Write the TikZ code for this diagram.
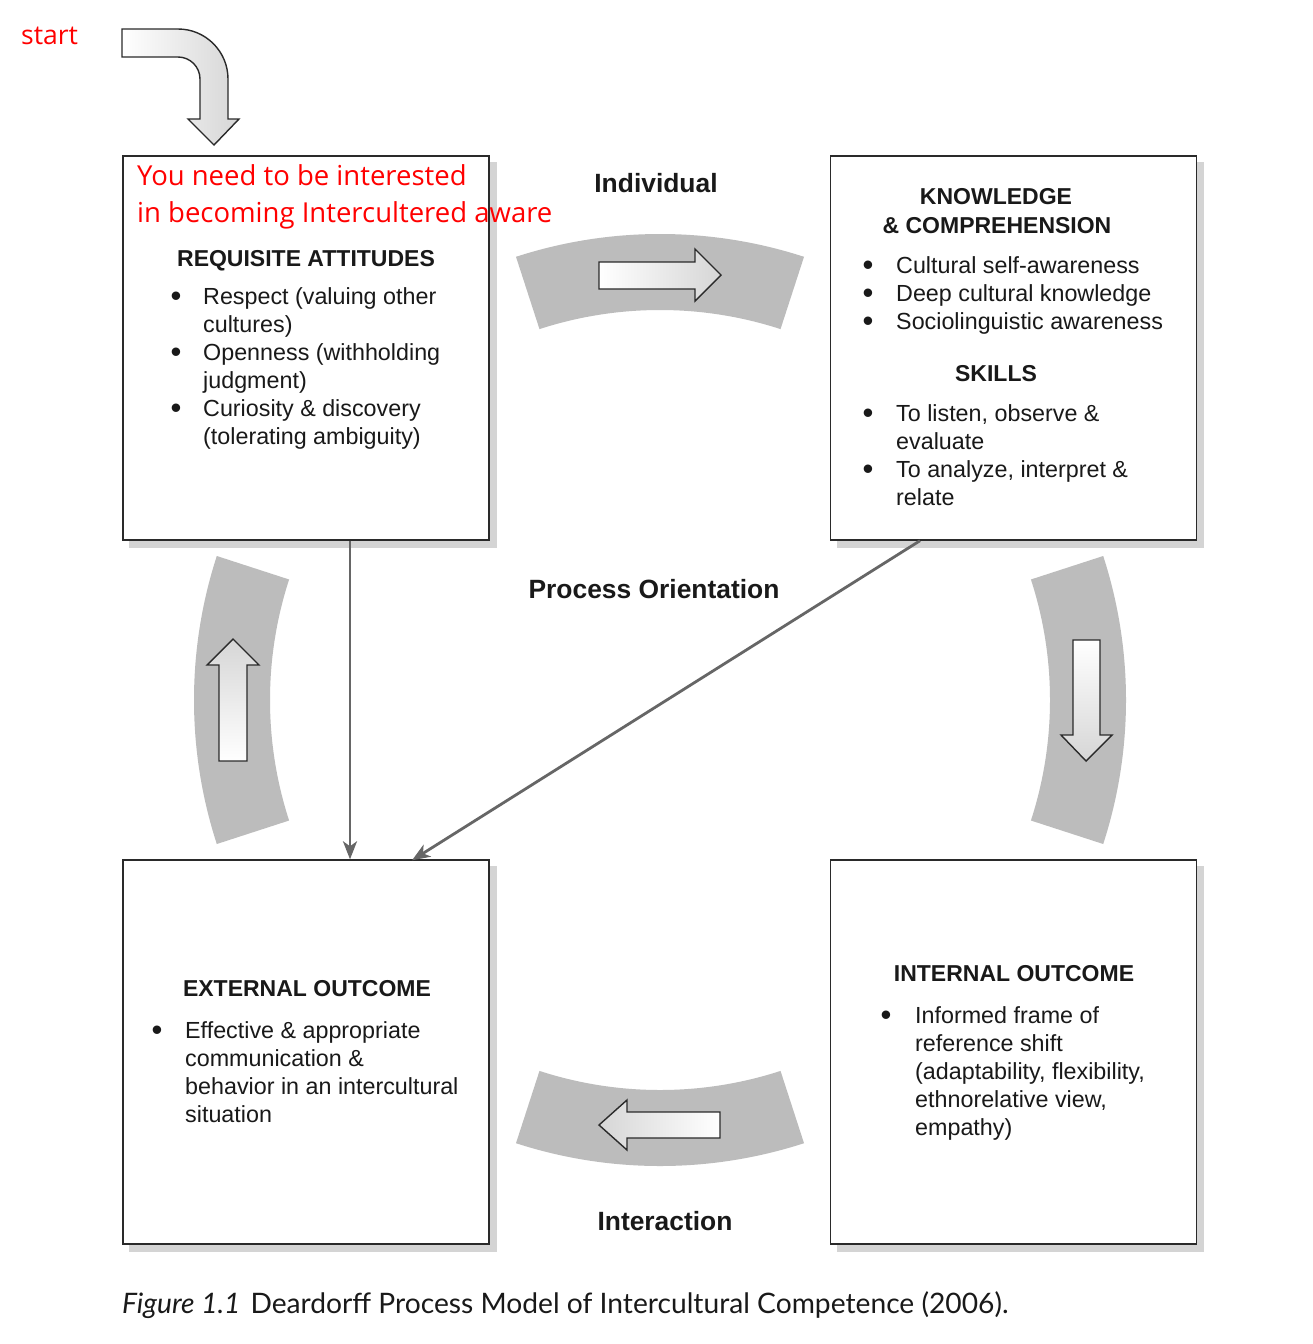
\documentclass[tikz,border=0pt]{standalone}
\usepackage{fontspec}
\setmainfont{Liberation Sans}
\newfontfamily\redfont{Open Sans}
\newfontfamily\capfont{Lato}
\usetikzlibrary{arrows.meta,calc}
\definecolor{bandgray}{HTML}{BCBCBC}
\definecolor{shadowgray}{HTML}{D4D4D4}
\definecolor{boxline}{HTML}{2A2A2A}
\definecolor{connline}{HTML}{666666}
\definecolor{arrgray}{HTML}{D6D6D6}
\tikzset{
  box/.style={draw=boxline, line width=1.4pt, fill=white, minimum width=366pt, minimum height=384pt, inner sep=0pt},
  txt/.style={inner sep=0pt, anchor=base west, font=\fontsize{23.3}{28}\selectfont, text=black!90},
  bul/.style={inner sep=0pt, anchor=base, yshift=-2.5pt, font=\fontsize{31}{28}\selectfont, text=black!90},
  head/.style={inner sep=0pt, anchor=base, font=\fontsize{23}{28}\selectfont\bfseries, text=black!90},
  lbl/.style={inner sep=0pt, anchor=base, font=\fontsize{26.4}{30}\selectfont\bfseries, text=black!90},
  redtxt/.style={inner sep=0pt, anchor=base west, font=\redfont\fontsize{27.5}{37}\selectfont, text=red},
  conn/.style={draw=connline, line width=2.8pt, -{Stealth[length=18pt,width=14pt,inset=5pt]}},
  band/.style={fill=bandgray},
  bigarrow/.style={draw=boxline, line width=1.4pt, line join=miter}
}
\begin{document}
\begin{tikzpicture}[x=1pt,y=-1pt]
\useasboundingbox[fill=white] (0,0) rectangle (1313,1344);
\coordinate (c) at (660,700);
% bands
\fill[band] ($(c)+(-108:466)$) arc[start angle=-108,end angle=-72,radius=466] -- ($(c)+(-72:390)$) arc[start angle=-72,end angle=-108,radius=390] -- cycle;
\fill[band] ($(c)+(162:466)$) arc[start angle=162,end angle=198,radius=466] -- ($(c)+(198:390)$) arc[start angle=198,end angle=162,radius=390] -- cycle;
\fill[band] ($(c)+(-18:466)$) arc[start angle=-18,end angle=18,radius=466] -- ($(c)+(18:390)$) arc[start angle=18,end angle=-18,radius=390] -- cycle;
\fill[band] ($(c)+(72:466)$) arc[start angle=72,end angle=108,radius=466] -- ($(c)+(108:390)$) arc[start angle=108,end angle=72,radius=390] -- cycle;
% arrows in bands
\draw[bigarrow, left color=white, right color=arrgray] (599,262) -- (695,262) -- (695,249) -- (721,275) -- (695,301) -- (695,289) -- (599,289) -- cycle;
\draw[bigarrow, top color=arrgray, bottom color=white] (219,761) -- (219,665) -- (207,665) -- (233,639) -- (259,665) -- (247,665) -- (247,761) -- cycle;
\draw[bigarrow, top color=white, bottom color=arrgray] (1073,640) -- (1100,640) -- (1100,735) -- (1112,735) -- (1086,761) -- (1061,735) -- (1073,735) -- cycle;
\draw[bigarrow, left color=arrgray, right color=white] (720,1112) -- (627,1112) -- (627,1100) -- (599,1125) -- (627,1150) -- (627,1138) -- (720,1138) -- cycle;
% start arrow
\draw[bigarrow, left color=white, right color=arrgray] (122,29) -- (178,29) arc[start angle=-90,end angle=0,radius=50] -- (228,119) -- (239,119) -- (214,145) -- (188,119) -- (200,119) -- (200,79) arc[start angle=0,end angle=-90,radius=22] -- (122,57) -- cycle;
\node[inner sep=0pt, anchor=base west, font=\redfont\fontsize{26.5}{30}\selectfont, text=red] (start) at (21,44) {start};
% boxes
\node[box] (tl) at (306,348) {};
\node[box] (tr) at (1013.5,348) {};
\node[box] (bl) at (306,1052) {};
\node[box] (br) at (1013.5,1052) {};
\foreach \b in {tl,tr,bl,br}{
  \fill[shadowgray] ($(\b.south west)+(7,0)$) rectangle ($(\b.south east)+(7,7)$);
  \fill[shadowgray] ($(\b.north east)+(0,7)$) rectangle ($(\b.south east)+(7,7)$);
}
% connectors
\draw[conn] ([xshift=44pt]tl.south) -- ([xshift=44pt]bl.north);
\draw[conn] ([xshift=-93.5pt]tr.south) -- ([xshift=106pt, yshift=-1pt]bl.north);
% labels
\node[lbl] (individual) at (656,192) {Individual};
\node[lbl] (process) at (654,598) {Process Orientation};
\node[lbl] (interaction) at (665,1230) {Interaction};
% top-left text
\node[redtxt] (r1) at (137,185) {You need to be interested};
\node[redtxt] (r2) at (137,222) {in becoming Intercultered aware};
\node[head] (h1) at (306,266) {REQUISITE ATTITUDES};
\node[bul] (b11) at (176,304) {•};
\node[bul] (b12) at (176,360) {•};
\node[bul] (b13) at (176,416) {•};
\node[txt] (t11) at (203,304) {Respect (valuing other};
\node[txt] (t12) at (203,332) {cultures)};
\node[txt] (t13) at (203,360) {Openness (withholding};
\node[txt] (t14) at (203,388) {judgment)};
\node[txt] (t15) at (203,416) {Curiosity \& discovery};
\node[txt] (t16) at (203,444) {(tolerating ambiguity)};
% top-right text
\node[head] (h2) at (996,204) {KNOWLEDGE};
\node[head] (h3) at (997,233) {\& COMPREHENSION};
\node[bul] (b21) at (868,273) {•};
\node[bul] (b22) at (868,301) {•};
\node[bul] (b23) at (868,329) {•};
\node[txt] (t21) at (896,273) {Cultural self-awareness};
\node[txt] (t22) at (896,301) {Deep cultural knowledge};
\node[txt] (t23) at (896,329) {Sociolinguistic awareness};
\node[head] (h4) at (996,381) {SKILLS};
\node[bul] (b24) at (868,421) {•};
\node[bul] (b25) at (868,477) {•};
\node[txt] (t24) at (896,421) {To listen, observe \&};
\node[txt] (t25) at (896,449) {evaluate};
\node[txt] (t26) at (896,477) {To analyze, interpret \&};
\node[txt] (t27) at (896,505) {relate};
% bottom-left text
\node[head] (h5) at (307,996) {EXTERNAL OUTCOME};
\node[bul] (b31) at (157,1038) {•};
\node[txt] (t31) at (185,1038) {Effective \& appropriate};
\node[txt] (t32) at (185,1066) {communication \&};
\node[txt] (t33) at (185,1094) {behavior in an intercultural};
\node[txt] (t34) at (185,1122) {situation};
% bottom-right text
\node[head] (h6) at (1014,981) {INTERNAL OUTCOME};
\node[bul] (b41) at (886,1023) {•};
\node[txt] (t41) at (915,1023) {Informed frame of};
\node[txt] (t42) at (915,1051) {reference shift};
\node[txt] (t43) at (915,1079) {(adaptability, flexibility,};
\node[txt] (t44) at (915,1107) {ethnorelative view,};
\node[txt] (t45) at (915,1135) {empathy)};
% caption
\node[inner sep=0pt, anchor=base west, font=\capfont\fontsize{28.2}{32}\selectfont, text=black!90] (caption) at (122,1313) {\textit{Figure 1.1}\hspace{10pt}Deardorff Process Model of Intercultural Competence (2006).};
\end{tikzpicture}
\end{document}
